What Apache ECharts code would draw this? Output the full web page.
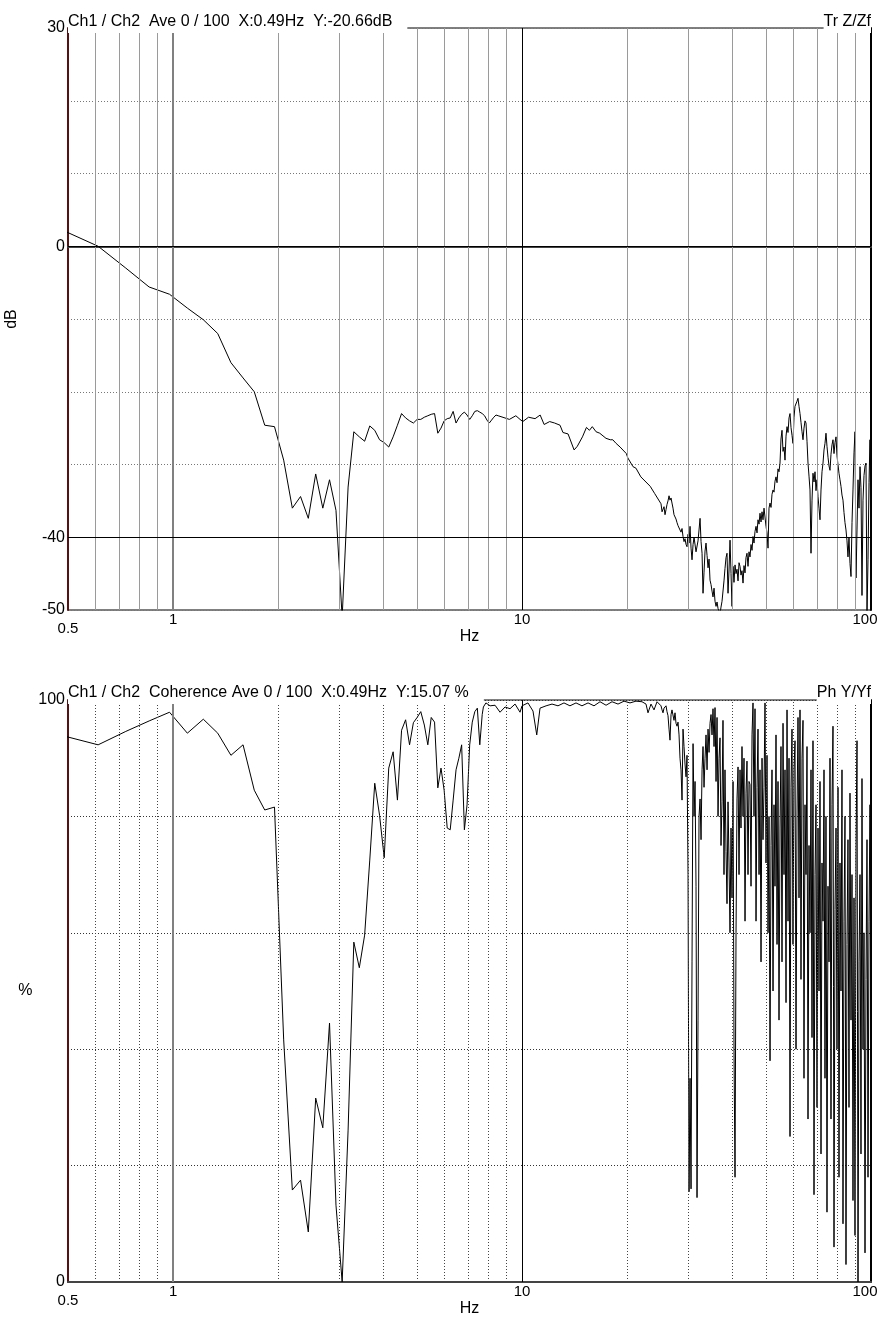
<!DOCTYPE html>
<html>
<head>
<meta charset="utf-8">
<title>Tr Z/Zf / Coherence</title>
<script src="https://cdn.jsdelivr.net/npm/echarts@6/dist/echarts.min.js"></script>
<style>
html,body{margin:0;padding:0;background:#fff;}
#main{width:890px;height:1325px;}
</style>
</head>
<body>
<div id="main"></div>
<script>
//上图 传递函数 0.49 ~ 24 Hz (Hz, dB)
var topHz = [0.488,0.610,0.732,0.854,0.977,1.099,1.221,1.343,1.465,1.587,1.709,1.831,1.953,2.075,2.197,2.319,2.441,2.563,2.686,2.808,2.930,3.052,3.174,3.296,3.418,3.540,3.662,3.784,3.906,4.028,4.150,4.272,4.395,4.517,4.639,4.761,4.883,5.005,5.127,5.249,5.371,5.493,5.615,5.737,5.859,5.981,6.104,6.226,6.348,6.470,6.592,6.714,6.836,6.958,7.080,7.202,7.324,7.446,7.568,7.690,7.812,7.935,8.057,8.179,8.301,8.423,8.545,
  9.2,9.6,9.87,10.05,10.44,10.9,11.27,11.57,12.0,12.4,12.85,13.1,13.55,14.1,14.4,14.9,15.3,15.6,15.9,16.3,16.7,17.4,17.9,18.2,18.6,19.1,19.9,20.1,20.8,21.2,21.9,22.1,23.3,24.0];
var topDb = [2.1,0.0,-3.0,-5.6,-6.6,-8.5,-10.1,-12.0,-16.0,-18.1,-20.0,-24.6,-24.8,-29.4,-36.0,-34.4,-37.4,-31.3,-36.0,-32.1,-36.3,-51,-33.1,-25.5,-26.2,-26.8,-24.7,-25.3,-26.6,-27.0,-27.6,-26.2,-24.6,-23.0,-23.6,-24.0,-24.3,-23.8,-23.8,-23.5,-23.3,-23.1,-23.0,-25.7,-25.0,-24.0,-23.7,-23.6,-22.7,-24.3,-23.6,-23.1,-22.8,-23.2,-23.8,-23.3,-22.7,-22.6,-22.8,-23.0,-23.3,-23.9,-24.3,-23.9,-23.5,-23.2,-23.3,
  -23.8,-23.3,-23.8,-24.1,-23.5,-23.7,-23.2,-24.5,-24.1,-24.3,-24.6,-25.6,-25.8,-28.0,-27.5,-26.2,-24.9,-25.3,-24.8,-25.5,-25.7,-26.4,-26.6,-26.6,-27.1,-27.6,-28.5,-29.1,-30.3,-30.5,-31.7,-31.9,-33.0,-34.0];

//下图 相干函数 0.49 ~ 24.4 Hz (Hz, %)
var cohHz = [0.488,0.610,0.732,0.854,0.977,1.099,1.221,1.343,1.465,1.587,1.709,1.831,1.953,2.075,2.197,2.319,2.441,2.563,2.686,2.808,2.930,3.052,3.174,3.296,3.418,3.540,3.662,3.784,3.906,4.028,4.150,4.272,4.395,4.517,4.639,4.761,4.883,5.005,5.127,5.249,5.371,5.493,5.615,5.737,5.859,5.981,6.104,6.226,6.348,6.470,6.592,6.714,6.836,6.958,7.080,7.202,7.324,7.446,7.568,7.690,
  7.75,7.88,8.10,8.37,8.65,8.94,9.24,9.55,9.87,10.0,10.40,10.75,11.02,11.26,11.72,12.19,12.68,13.19,13.72,14.28,14.85,15.46,16.08,16.73,17.41,18.11,18.84,19.60,20.39,21.21,22.07,22.66,22.96,23.42,23.89,24.37];
var cohPct = [93.8,92.3,94.6,96.4,97.9,94.3,96.7,94.3,90.5,92.3,84.5,81.1,81.6,41.6,15.8,17.5,8.6,31.6,26.5,44.5,13.2,0,26.1,58.4,54.0,59.6,72.5,85.7,80.2,72.9,88.3,91.1,82.8,94.8,96.6,92.3,96.1,97.0,98.0,95.7,92.3,97.0,96.2,84.9,88.3,84.5,78.0,77.7,82.8,88.0,90.0,92.3,77.7,82.0,92.3,96.2,98.0,98.6,92.3,97.5,
  98.8,99.5,99.0,99.1,97.9,98.8,98.5,99.3,97.9,99.0,99.5,98.1,94.0,98.6,99.0,99.3,99.0,99.5,99.0,99.5,99.0,99.5,99.0,99.7,99.1,99.7,99.3,99.8,99.5,99.8,99.7,99.3,97.8,99.3,98.3,99.7];

//25 ~ 100 Hz 高频段 (两图共用频率)
var hfHz = [25.02,25.19,25.35,25.52,25.69,25.86,26.03,26.20,26.38,26.55,
  26.73,26.90,27.08,27.26,27.44,27.62,27.81,27.99,28.18,28.36,
  28.55,28.74,28.93,29.12,29.31,29.51,29.70,29.90,30.10,30.30,
  30.50,30.70,30.91,31.11,31.32,31.52,31.73,31.94,32.15,32.37,
  32.58,32.80,33.01,33.23,33.45,33.67,33.90,34.12,34.35,34.57,
  34.80,35.03,35.26,35.50,35.73,35.97,36.21,36.45,36.69,36.93,
  37.17,37.42,37.66,37.91,38.16,38.42,38.67,38.93,39.19,39.45,
  39.71,39.97,40.24,40.50,40.77,41.04,41.31,41.59,41.86,42.14,
  42.41,42.69,42.98,43.26,43.55,43.83,44.12,44.42,44.71,45.01,
  45.31,45.61,45.91,46.21,46.52,46.83,47.14,47.45,47.77,48.08,
  48.40,48.72,49.04,49.37,49.69,50.02,50.35,50.69,51.02,51.36,
  51.70,52.04,52.39,52.73,53.08,53.43,53.79,54.14,54.50,54.86,
  55.22,55.59,55.96,56.33,56.70,57.08,57.46,57.84,58.22,58.60,
  58.99,59.38,59.77,60.17,60.57,60.97,61.37,61.78,62.19,62.60,
  63.01,63.43,63.85,64.27,64.70,65.13,65.56,65.99,66.43,66.87,
  67.31,67.76,68.20,68.66,69.11,69.57,70.03,70.49,70.96,71.43,
  71.90,72.38,72.86,73.34,73.82,74.31,74.80,75.30,75.80,76.30,
  76.80,77.31,77.82,78.34,78.86,79.38,79.90,80.43,80.96,81.50,
  82.04,82.58,83.13,83.68,84.23,84.79,85.35,85.91,86.48,87.06,
  87.64,88.22,88.80,89.39,89.98,90.58,91.18,91.78,92.39,93.00,
  93.61,94.23,94.86,95.49,96.12,96.76,97.40,98.04,98.69,99.34,
  100.0];
var hfDb = [-35.4,-36.5,-36.7,-35.8,-36.9,-36.2,-35.5,-35.0,-34.3,-34.9,
  -34.6,-35.3,-36.0,-36.9,-36.7,-37.5,-38.0,-38.4,-38.2,-39.0,
  -39.3,-38.8,-39.9,-40.6,-40.2,-41.0,-41.3,-39.6,-40.8,-38.5,
  -41.5,-43.1,-41.0,-40.0,-39.9,-42.0,-42.2,-40.5,-39.0,-37.4,
  -40.6,-42.2,-47.7,-44.8,-41.9,-40.8,-42.5,-44.2,-43.0,-45.9,
  -46.5,-47.4,-48.2,-47.0,-48.8,-49.5,-48.9,-49.8,-50.2,-50.5,
  -49.6,-48.8,-48.6,-46.0,-44.3,-42.8,-42.2,-47.7,-44.5,-40.4,
  -45.0,-49.5,-44.0,-46.2,-43.8,-45.0,-44.4,-46.0,-43.5,-44.0,
  -45.2,-44.6,-46.3,-43.9,-44.9,-42.8,-42.2,-44.0,-42.0,-42.7,
  -41.0,-41.8,-39.9,-40.8,-39.2,-38.5,-39.4,-37.6,-38.2,-36.7,
  -37.9,-36.5,-37.6,-36.0,-36.2,-38.5,-39.4,-41.5,-36.0,-35.3,
  -35.9,-34.1,-33.5,-33.8,-32.3,-31.7,-32.5,-30.6,-31.0,-29.8,
  -26.5,-25.3,-28.2,-27.6,-29.4,-26.1,-24.8,-25.6,-23.6,-23.0,
  -24.9,-26.0,-27.1,-23.5,-22.0,-21.8,-21.3,-20.9,-22.0,-23.0,
  -24.2,-25.5,-26.6,-25.0,-24.0,-24.3,-26.8,-29.8,-31.6,-33.5,
  -42.2,-35.0,-31.2,-32.4,-31.0,-33.6,-32.1,-34.4,-36.0,-37.6,
  -33.5,-31.0,-29.8,-28.0,-27.1,-25.7,-27.5,-29.0,-30.2,-30.8,
  -28.6,-27.3,-26.6,-28.5,-27.0,-26.2,-28.8,-30.0,-31.2,-32.1,
  -33.0,-34.2,-34.9,-36.6,-38.0,-39.0,-40.5,-42.7,-40.1,-43.6,
  -45.4,-38.0,-33.5,-28.4,-25.5,-45.6,-39.0,-32.1,-36.0,-30.3,
  -33.2,-48.0,-34.9,-31.5,-30.2,-29.8,-50.5,-43.1,-32.5,-26.6,
  -45.9];
var hfPct = [99.0,98.3,97.8,98.6,98.3,99.0,98.0,97.3,95.0,93.1,
  97.5,98.3,98.0,96.5,97.8,96.0,95.5,96.2,94.0,90.0,
  88.0,82.8,95.0,92.0,89.0,86.8,90.5,70.0,15.5,35.0,
  16.0,55.0,92.5,80.0,86.0,68.0,14.5,45.0,80.0,83.0,
  76.0,88.0,92.0,85.0,90.0,94.0,88.0,95.0,91.0,96.0,
  97.5,94.0,98.5,92.0,98.7,86.0,97.0,80.0,90.0,93.5,
  75.0,82.5,96.5,70.0,88.0,74.0,65.0,82.5,72.0,60.0,
  78.0,66.0,86.0,40.0,18.0,60.0,83.0,88.5,70.0,88.0,
  78.0,92.0,80.0,90.0,62.0,84.0,89.5,70.0,86.0,85.5,
  68.0,94.0,99.5,80.0,98.5,62.0,85.0,95.0,70.0,88.0,
  55.0,90.0,76.0,85.0,99.5,72.0,90.5,60.0,80.0,38.0,
  75.0,88.0,50.0,82.0,68.0,94.0,58.0,86.0,45.0,78.0,
  92.0,55.0,96.0,70.0,88.0,48.0,98.3,62.0,90.0,25.0,
  85.0,95.0,58.0,88.0,93.0,40.0,80.0,97.0,66.0,98.3,
  52.0,90.0,96.5,35.0,82.0,70.0,92.0,28.0,75.0,60.0,
  88.0,42.0,93.0,15.0,70.0,82.0,30.0,78.0,50.0,86.0,
  22.0,72.0,62.0,88.0,35.0,80.0,12.0,68.0,55.0,90.0,
  28.0,82.0,95.5,6.0,64.0,78.0,40.0,85.0,18.0,72.0,
  50.0,88.0,10.0,62.0,80.0,3.0,58.0,76.0,30.0,84.0,
  45.0,70.0,14.0,66.0,8.0,74.0,93.0,0.0,55.0,70.0,
  22.0,86.5,40.0,60.0,5.0,52.0,76.0,18.0,62.0,82.0,
  30.0];

//刻度
var minorHz = [0.6,0.7,0.8,0.9,2,3,4,5,6,7,8,9,20,30,40,50,60,70,80,90];
var decadeHz = [1,10];
var dbLabels = [30,0,-40,-50];
var dbSolid = [0,-40];
var pctLabels = [100,0];

var font = 'Liberation Sans, Arial, sans-serif';

function pairs(xs, ys){
    var out = [];
    for (var i = 0; i < xs.length; i++) {
        out.push([xs[i], ys[i]]);
    }
    return out;
}

//竖向网格线
function vLines(dotted){
    var arr = [];
    for (var i = 0; i < minorHz.length; i++) {
        arr.push({xAxis: minorHz[i], lineStyle: {color: dotted ? '#444' : '#9a9a9a', width: 1, type: dotted ? [1, 2] : 'solid'}});
    }
    arr.push({xAxis: decadeHz[0], lineStyle: {color: '#808080', width: 2, type: 'solid'}});
    arr.push({xAxis: decadeHz[1], lineStyle: {color: '#000', width: 1, type: 'solid'}});
    return arr;
}

function hzLabel(v){
    if (v < 0.75) return '\n0.5';
    if (Math.abs(v - 1) < 0.01) return '1';
    if (Math.abs(v - 10) < 0.1) return '10';
    if (v > 99) return '{r|100}';
    return '';
}

function xAxisCfg(idx){
    return {
        type: 'log', logBase: 10, gridIndex: idx, min: 0.5, max: 100,
        axisLine: {show: true, lineStyle: {color: '#444', width: 2}},
        axisTick: {show: false},
        splitLine: {show: false},
        axisLabel: {
            fontSize: 15, color: '#000', fontFamily: font, margin: 5, lineHeight: 9,
            formatter: hzLabel,
            rich: {r: {fontSize: 15, color: '#000', fontFamily: font, lineHeight: 9, padding: [0, 12, 0, 0]}}
        },
        name: 'Hz', nameLocation: 'middle', nameGap: 19, nameMoveOverlap: false,
        nameTextStyle: {fontSize: 16, color: '#000', fontFamily: font}
    };
}

function yAxisCfg(idx, lo, hi, step, labels, gridColor, name, rot, gap){
    return {
        type: 'value', gridIndex: idx, min: lo, max: hi, interval: step,
        axisLine: {show: true, lineStyle: {color: '#5a1010', width: 2}},
        axisTick: {show: false},
        axisLabel: {fontSize: 16, color: '#000', fontFamily: font, margin: 3,
            formatter: function(v){ return labels.indexOf(v) >= 0 ? String(v) : ''; }},
        splitLine: {show: true, lineStyle: {color: gridColor, type: [1, 2], width: 1}},
        name: name, nameLocation: 'middle', nameRotate: rot, nameGap: gap,
        nameTextStyle: {fontSize: 16, color: '#000', fontFamily: font}
    };
}

function rightAxis(idx, lo, hi){
    return {type: 'value', gridIndex: idx, position: 'right', min: lo, max: hi,
        axisLine: {show: true, lineStyle: {color: '#000', width: 2}},
        axisTick: {show: false}, axisLabel: {show: false}, splitLine: {show: false}};
}

var titleStyle = {fontSize: 16, fontWeight: 'normal', color: '#000', fontFamily: font};

var myChart = echarts.init(document.getElementById('main'));
var option = {
    backgroundColor: '#fff',
    animation: false,
    title: [
        {text: 'Ch1 / Ch2  Ave 0 / 100  X:0.49Hz  Y:-20.66dB', left: 68, top: 13, padding: [1, 15, 3, 0], backgroundColor: '#fff', textStyle: titleStyle},
        {text: 'Tr Z/Zf', right: 19, top: 13, padding: [1, 0, 3, 0], backgroundColor: '#fff', textStyle: titleStyle},
        {text: 'Ch1 / Ch2  Coherence Ave 0 / 100  X:0.49Hz  Y:15.07 %', left: 68, top: 684, padding: [1, 15, 3, 0], backgroundColor: '#fff', textStyle: titleStyle},
        {text: 'Ph Y/Yf', right: 19, top: 684, padding: [1, 0, 3, 0], backgroundColor: '#fff', textStyle: titleStyle}
    ],
    grid: [
        {left: 68, top: 28, width: 803, height: 582, outerBoundsMode: 'none', containLabel: false,
            show: true, borderColor: '#000', borderWidth: 1, backgroundColor: 'transparent'},
        {left: 68, top: 700, width: 803, height: 582, outerBoundsMode: 'none', containLabel: false,
            show: true, borderColor: '#000', borderWidth: 1, backgroundColor: 'transparent'}
    ],
    xAxis: [xAxisCfg(0), xAxisCfg(1)],
    yAxis: [
        yAxisCfg(0, -50, 30, 10, dbLabels, '#777', 'dB', 90, 48),
        yAxisCfg(1, 0, 100, 20, pctLabels, '#333', '%', 0, 30),
        rightAxis(0, -50, 30),
        rightAxis(1, 0, 100)
    ],
    series: [
        {
            type: 'line', xAxisIndex: 0, yAxisIndex: 0, data: [], silent: true, z: 1,
            markLine: {silent: true, symbol: ['none', 'none'], label: {show: false}, animation: false,
                data: vLines(false).concat(dbSolid.map(function(d){ return {yAxis: d, lineStyle: {color: '#000', width: 1, type: 'solid'}}; }))}
        },
        {
            type: 'line', xAxisIndex: 1, yAxisIndex: 1, data: [], silent: true, z: 1,
            markLine: {silent: true, symbol: ['none', 'none'], label: {show: false}, animation: false, data: vLines(true)}
        },
        {
            name: 'Tr Z/Zf', type: 'line', xAxisIndex: 0, yAxisIndex: 0, z: 3,
            showSymbol: false, clip: true,
            lineStyle: {color: '#000', width: 1},
            data: pairs(topHz.concat(hfHz), topDb.concat(hfDb))
        },
        {
            name: 'Coherence', type: 'line', xAxisIndex: 1, yAxisIndex: 1, z: 3,
            showSymbol: false, clip: true,
            lineStyle: {color: '#000', width: 1},
            data: pairs(cohHz.concat(hfHz), cohPct.concat(hfPct))
        }
    ]
};
myChart.setOption(option);
window.onresize = myChart.resize;
</script>
</body>
</html>
